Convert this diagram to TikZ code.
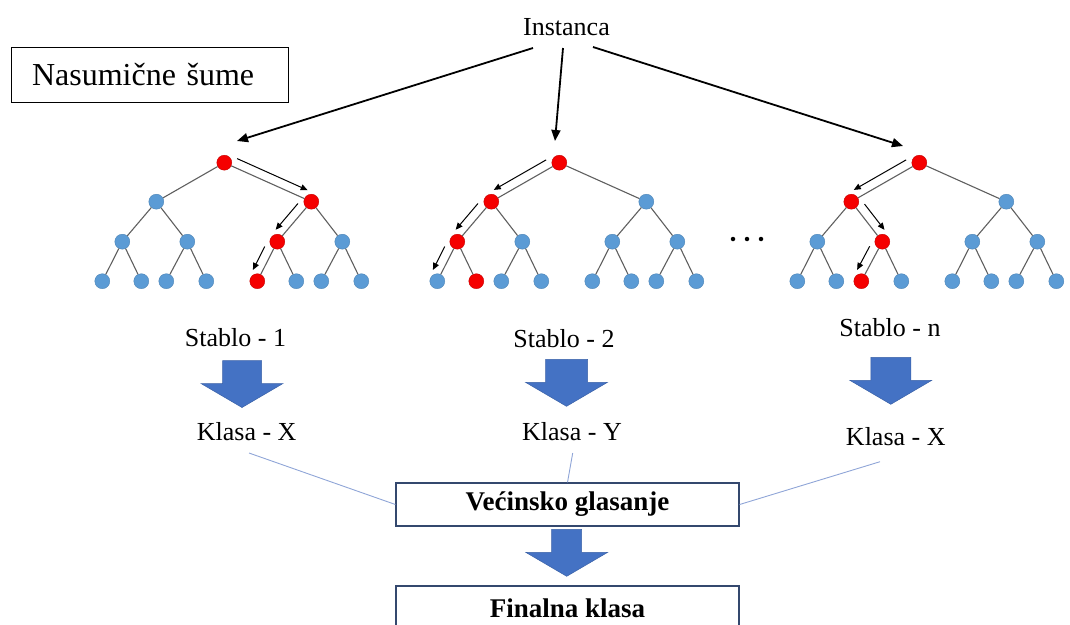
\documentclass[tikz,border=0pt]{standalone}
\usepackage{fontspec}
\setmainfont{Liberation Serif}
\usetikzlibrary{calc,arrows.meta}

\definecolor{nodeblue}{RGB}{91,155,213}
\definecolor{pathred}{RGB}{245,0,0}
\definecolor{shapeblue}{RGB}{68,114,196}
\definecolor{linkblue}{RGB}{143,165,215}
\definecolor{frameblue}{RGB}{52,72,110}
\definecolor{edgegray}{RGB}{95,95,95}

\tikzset{
  txt/.style={font=\fontsize{26}{30}\selectfont, inner sep=0pt, anchor=base},
  tnode/.style={circle, inner sep=0pt, minimum size=15pt, fill=nodeblue,
                draw=nodeblue!85!black, line width=0.4pt},
  onpath/.style={fill=pathred, draw=pathred!80!black},
  offpath/.style={},
  tedge/.style={draw=edgegray, line width=1.1pt},
  walk/.style={draw=black, line width=1pt, -{Triangle[length=7pt,width=6pt]}},
  feed/.style={draw=black, line width=1.8pt, -{Triangle[length=11pt,width=9pt]}},
  link/.style={draw=linkblue, line width=0.9pt},
  resultbox/.style={draw=frameblue, line width=1.2pt, minimum width=343pt,
                    minimum height=43pt, inner sep=0pt,
                    font=\fontsize{27}{31}\selectfont\bfseries},
  bigarrow/.style={fill=shapeblue, draw=shapeblue!85!black, line width=0.5pt},
  dot/.style={circle, fill=black, inner sep=0pt, minimum size=4.5pt},
}

\makeatletter
% one decision tree: #1 name prefix, #2 x of the root, #3 nodes on the decision path
\newcommand\rftree[3]{%
  \foreach \i/\dx/\dy in {0/0/0, 1/-68/39, 2/87/39, 3/-102/79, 4/-37/79, 5/53/79,
      6/118/79, 7/-122/118.5, 8/-83/118.5, 9/-58/118.5, 10/-18/118.5,
      11/33/118.5, 12/72/118.5, 13/97/118.5, 14/137/118.5}{%
    \edef\rf@test{\noexpand\in@{,\i,}{,#3,}}\rf@test
    \ifin@\def\rf@look{onpath}\else\def\rf@look{offpath}\fi
    \node[tnode,\rf@look] (#1-\i) at ({#2+\dx},{162.7+\dy}) {};
  }%
  \foreach \c in {1,...,14}{%
    \pgfmathtruncatemacro\rf@parent{(\c-1)/2}%
    \draw[tedge] (#1-\rf@parent) -- (#1-\c);
  }%
}
\makeatother

% small arrow running beside a tree edge: parent, child, side angle, opposite angle
\newcommand\rfwalk[4]{%
  \draw[walk] ($(#1)!10pt!(#2)!9pt!#3:(#2)$) -- ($(#2)!8pt!(#1)!9pt!#4:(#1)$);
}

% wide block arrow pointing down: centre x, top y, half shaft width
\newcommand\blockarrow[3]{%
  \filldraw[bigarrow] ({#1-#3},#2) -- ({#1+#3},#2) -- ({#1+#3},{#2+23})
    -- ({#1+41},{#2+23}) -- (#1,{#2+47}) -- ({#1-41},{#2+23})
    -- ({#1-#3},{#2+23}) -- cycle;
}

\begin{document}
\begin{tikzpicture}[x=1pt,y=-1pt]
\useasboundingbox (0,0) rectangle (1070,624);

% title box
\node[draw, line width=0.9pt, minimum height=55pt, text width=235pt,
      inner xsep=21pt, inner ysep=0pt, align=left,
      font=\fontsize{32}{37}\selectfont] (title) at (149.5,74.5) {Nasumične šume};

% input instance
\node[txt] (inst) at (566.5,35) {Instanca};

% the forest
\rftree{t1}{224.3}{0,2,5,11}
\rftree{t2}{559.3}{0,1,3,8}
\rftree{t3}{919.3}{0,1,4,9}

% decision paths
\rfwalk{t1-0}{t1-2}{90}{-90}
\rfwalk{t1-2}{t1-5}{-90}{90}
\rfwalk{t1-5}{t1-11}{-90}{90}
\rfwalk{t2-0}{t2-1}{-90}{90}
\rfwalk{t2-1}{t2-3}{-90}{90}
\rfwalk{t2-3}{t2-7}{-90}{90}
\rfwalk{t3-0}{t3-1}{-90}{90}
\rfwalk{t3-1}{t3-4}{90}{-90}
\rfwalk{t3-4}{t3-9}{-90}{90}

% ellipsis between trees
\node[dot] (d1) at (733,239) {};
\node[dot] (d2) at (747,239) {};
\node[dot] (d3) at (761,239) {};

% instance fed to every tree
\coordinate (f1s) at (533,48);  \coordinate (f1e) at (237,141);
\coordinate (f2s) at (563,48);  \coordinate (f2e) at (555,141);
\coordinate (f3s) at (593,47);  \coordinate (f3e) at (903,146);
\draw[feed] (f1s) -- (f1e);
\draw[feed] (f2s) -- (f2e);
\draw[feed] (f3s) -- (f3e);

% tree names
\node[txt] (s1) at (235.5,346) {Stablo - 1};
\node[txt] (s2) at (564,347) {Stablo - 2};
\node[txt] (s3) at (890,336) {Stablo - n};

\blockarrow{242}{360.5}{19.5}
\blockarrow{566.5}{359.3}{21}
\blockarrow{890.8}{357.3}{20}

% predicted classes
\node[txt] (k1) at (246.7,440) {Klasa - X};
\node[txt] (k2) at (572,440) {Klasa - Y};
\node[txt] (k3) at (895.8,445) {Klasa - X};

% voting
\node[resultbox] (vote) at (567.5,504.5) {Većinsko glasanje};
\coordinate (k1x) at (249,453);
\coordinate (k2x) at (572.7,453);
\coordinate (k3x) at (880,461.7);
\draw[link] (k1x) -- (vote.west);
\draw[link] (k2x) -- (vote.north);
\draw[link] (k3x) -- (vote.east);

\blockarrow{566.7}{529.3}{15}

\node[resultbox, minimum height=44pt] (final) at (567.5,608) {Finalna klasa};
\end{tikzpicture}
\end{document}
